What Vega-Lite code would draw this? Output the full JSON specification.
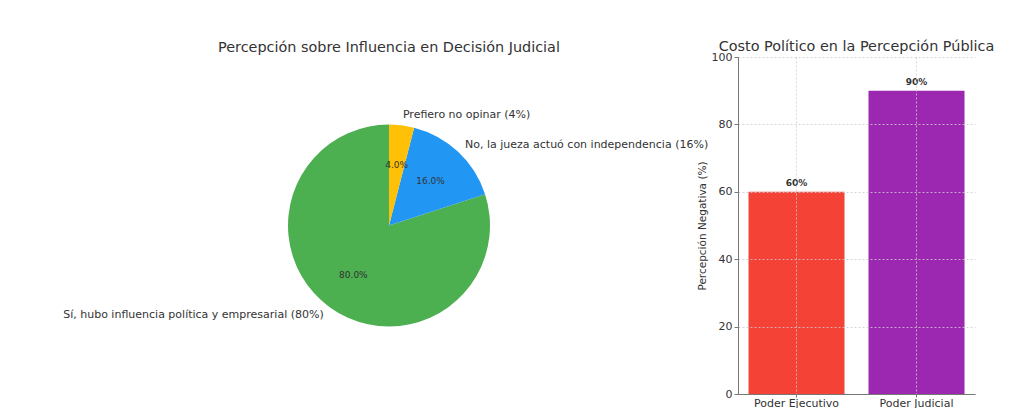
{
  "$schema": "https://vega.github.io/schema/vega-lite/v6.json",
  "background": "white",
  "padding": {"left": 60, "top": 38, "right": 5, "bottom": 0},
  "spacing": 20,
  "bounds": "flush",
  "resolve": {"scale": {"color": "independent"}},
  "config": {
    "font": "DejaVu Sans",
    "view": {"stroke": null},
    "title": {"fontSize": 14.4, "fontWeight": "normal", "color": "#333333"},
    "axis": {
      "labelColor": "#333333",
      "titleColor": "#333333",
      "labelFont": "DejaVu Sans",
      "titleFont": "DejaVu Sans",
      "domainColor": "#777777",
      "tickColor": "#777777",
      "tickSize": 4,
      "gridColor": "#cccccc",
      "gridDash": [2, 2],
      "gridWidth": 0.8
    }
  },
  "hconcat": [
    {
      "width": 658,
      "height": 337,
      "title": {"text": "Percepción sobre Influencia en Decisión Judicial", "offset": 2},
      "data": {
        "values": [
          {"respuesta": "Sí, hubo influencia política y empresarial", "porcentaje": 80},
          {"respuesta": "No, la jueza actuó con independencia", "porcentaje": 16},
          {"respuesta": "Prefiero no opinar", "porcentaje": 4}
        ]
      },
      "transform": [
        {"calculate": "format(datum.porcentaje, '.1f') + '%'", "as": "pct"},
        {"calculate": "datum.respuesta + ' (' + datum.porcentaje + '%)'", "as": "etiqueta"}
      ],
      "encoding": {
        "theta": {"field": "porcentaje", "type": "quantitative", "stack": true},
        "order": {"field": "porcentaje", "sort": "ascending"},
        "detail": {"field": "respuesta", "type": "nominal"}
      },
      "layer": [
        {
          "mark": {"type": "arc", "outerRadius": 101},
          "encoding": {
            "color": {
              "field": "respuesta",
              "type": "nominal",
              "legend": null,
              "scale": {
                "domain": ["Sí, hubo influencia política y empresarial", "No, la jueza actuó con independencia", "Prefiero no opinar"],
                "range": ["#4CAF50", "#2196F3", "#FFC107"]
              }
            }
          }
        },
        {
          "mark": {"type": "text", "radius": 60.6, "fontSize": 9, "color": "#333333"},
          "encoding": {"text": {"field": "pct", "type": "nominal"}}
        },
        {
          "mark": {
            "type": "text",
            "radius": 111,
            "fontSize": 11,
            "color": "#333333",
            "baseline": "middle",
            "align": {"expr": "datum.porcentaje > 50 ? 'right' : 'left'"}
          },
          "encoding": {"text": {"field": "etiqueta", "type": "nominal"}}
        }
      ]
    },
    {
      "width": 237,
      "height": 337,
      "title": {"text": "Costo Político en la Percepción Pública", "offset": -3},
      "data": {
        "values": [
          {"poder": "Poder Ejecutivo", "valor": 60},
          {"poder": "Poder Judicial", "valor": 90}
        ]
      },
      "transform": [
        {"calculate": "datum.valor + '%'", "as": "etiqueta"}
      ],
      "encoding": {
        "x": {
          "field": "poder",
          "type": "nominal",
          "title": null,
          "scale": {"paddingInner": 0.2, "paddingOuter": 0.0875},
          "axis": {"labelAngle": 0, "grid": true, "bandPosition": 0.5, "labelFontSize": 11, "labelPadding": 0, "tickSize": 3, "zindex": 1}
        },
        "y": {
          "field": "valor",
          "type": "quantitative",
          "title": "Percepción Negativa (%)",
          "scale": {"domain": [0, 100]},
          "axis": {"values": [0, 20, 40, 60, 80, 100], "grid": true, "labelFontSize": 11, "titleFontSize": 10.5, "titleFontWeight": "normal", "titlePadding": 4, "zindex": 1}
        }
      },
      "layer": [
        {
          "mark": {"type": "bar"},
          "encoding": {
            "color": {
              "field": "poder",
              "type": "nominal",
              "legend": null,
              "scale": {"domain": ["Poder Ejecutivo", "Poder Judicial"], "range": ["#F44336", "#9C27B0"]}
            }
          }
        },
        {
          "mark": {"type": "text", "baseline": "bottom", "dy": -4, "fontSize": 9, "fontWeight": "bold", "color": "#333333"},
          "encoding": {"text": {"field": "etiqueta", "type": "nominal"}}
        }
      ]
    }
  ]
}
